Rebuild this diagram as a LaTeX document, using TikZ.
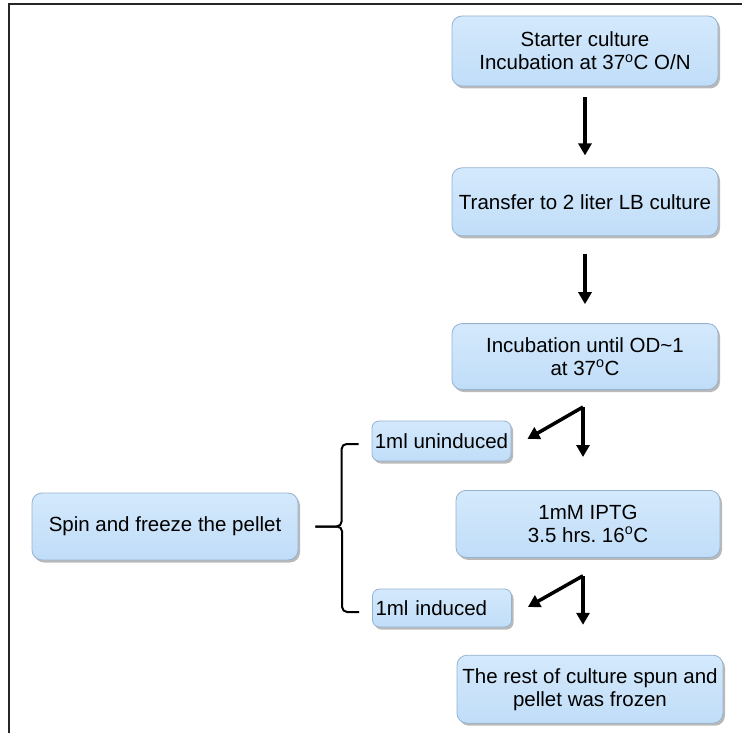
\documentclass[tikz,border=0pt]{standalone}
\usepackage{fontspec}
\setmainfont{Liberation Sans}
\usetikzlibrary{positioning,arrows.meta,shadows,calc}
\definecolor{boxblue}{RGB}{192,221,248}
\definecolor{boxtop}{RGB}{212,233,252}
\definecolor{boxrim}{RGB}{150,178,206}

\begin{document}
\begin{tikzpicture}[x=1pt, y=-1pt,
  stage/.style = {draw=boxrim, line width=0.8pt, rounded corners=10pt, top color=boxtop, bottom color=boxblue,
    drop shadow={shadow xshift=2pt, shadow yshift=-2.5pt, opacity=0.55},
    minimum width=266pt, minimum height=68pt, inner sep=2pt, align=center, font=\fontsize{20.5}{23}\selectfont},
  side/.style = {stage, minimum width=139pt, minimum height=40pt, rounded corners=7pt},
  arr/.style = {line width=3.5pt, -{Triangle[width=13pt,length=12pt]}},
  brace/.style = {line width=2pt, rounded corners=5pt}]
      \useasboundingbox (0,0) rectangle (742,733);
      \draw[line width=2pt, black!85] (742,4) -- (9,4) -- (9,733);
      \node[stage, minimum height=70pt] (b1) at (585,51) {Starter culture\\Incubation at 37\textsuperscript{o}C O/N};
      \node[stage] (b2) [below=81pt of b1] {Transfer to 2 liter LB culture};
      \node[stage, minimum height=66pt] (b3) [below=87pt of b2] {Incubation until OD\textasciitilde1\\at 37\textsuperscript{o}C};
      \node[stage, minimum width=264pt, minimum height=67pt] (b4) [below=100pt of b3, xshift=3pt] {1mM IPTG\\3.5 hrs.\ 16\textsuperscript{o}C};
      \node[stage] (b5) [below=97pt of b4, xshift=2pt] {The rest of culture spun and\\pellet was frozen};
      %% side samples and the pellet
      \node[side] (unind) at (441.5,441) {1ml uninduced};
      \node[side, minimum height=38pt, text width=133pt, align=left] (ind) at (442,608) {1ml induced};
      \node[stage, minimum height=67pt] (spin) at (165,526.5) {Spin and freeze the pellet};
      \draw[arr, shorten <=11pt, shorten >=12pt] (b1) -- (b2);
      \draw[arr, shorten <=18pt, shorten >=19pt] (b2) -- (b3);
      \coordinate (f1) at ([xshift=-2pt, yshift=-17pt]b3.south);
      \coordinate (u1) at ([xshift=16pt, yshift=2pt]unind.east);
      \draw[arr, shorten >=33pt] (f1) -- (f1 |- b4.north);
      \draw[arr] (f1) -- (u1);
      \coordinate (f2) at ([xshift=-5pt, yshift=-18pt]b4.south);
      \coordinate (i1) at ([xshift=16pt, yshift=1pt]ind.east);
      \draw[arr, shorten >=30pt] (f2) -- (f2 |- b5.north);
      \draw[arr] (f2) -- (i1);
      %% brace
      \coordinate (bt) at ([xshift=-13pt, yshift=-3pt]unind.west);
      \coordinate (bb) at ([xshift=-13pt, yshift=-4pt]ind.west);
      \coordinate (bm) at ([xshift=17pt]spin.east);
      \draw[brace] (bt) -- ++(-17,0) |- (bm);
      \draw[brace] (bb) -- ++(-17,0) |- (bm);
\end{tikzpicture}
\end{document}
